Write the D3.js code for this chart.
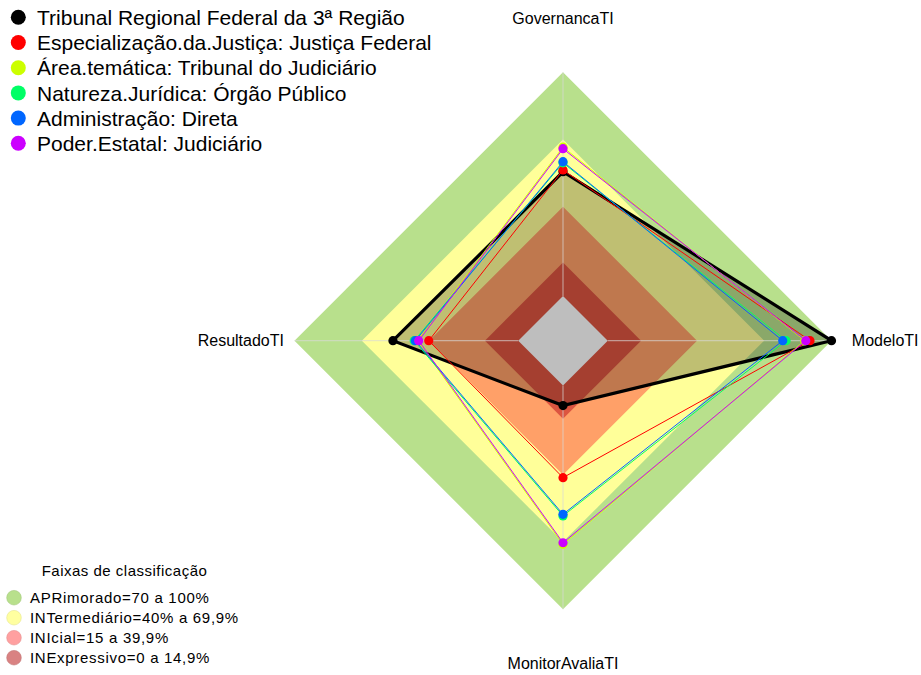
<!DOCTYPE html>
<html>
<head>
<meta charset="utf-8">
<script src="https://cdn.jsdelivr.net/npm/d3@7"></script>
<style>
  html, body { margin: 0; padding: 0; background: #ffffff; }
  text { font-family: "Liberation Sans", Arial, sans-serif; fill: #000; }
</style>
</head>
<body>
<svg id="chart" width="921" height="675"></svg>
<script>
// ---- Data ----
const axes = ["GovernancaTI", "ModeloTI", "MonitorAvaliaTI", "ResultadoTI"];
const seriesNames = [
  "Tribunal Regional Federal da 3ª Região",
  "Especialização.da.Justiça: Justiça Federal",
  "Área.temática: Tribunal do Judiciário",
  "Natureza.Jurídica: Órgão Público",
  "Administração: Direta",
  "Poder.Estatal: Judiciário"
];
const seriesColors = ["#000000", "#FF0000", "#CCFF00", "#00FF66", "#0066FF", "#CC00FF"];
// values per axis: GovernancaTI, ModeloTI, MonitorAvaliaTI, ResultadoTI
const trf3      = [55.5, 100, 9, 56];
const justFed   = [56.3, 90.4, 41.2, 40];
const areaTem   = [66.5, 88.0, 71.0, 45];
const natJur    = [59.5, 79.7, 58.3, 46.5];
const adminDir  = [60.0, 78.2, 57.6, 46];
const poderEst  = [65.8, 88.5, 70.3, 44.5];
const seriesValues = [trf3, justFed, areaTem, natJur, adminDir, poderEst];

const bandNames = ["APRimorado=70 a 100%", "INTermediário=40% a 69,9%", "INIcial=15 a 39,9%", "INExpressivo=0 a 14,9%"];
const bandUpper = [100, 69.9, 39.9, 14.9];
const bandColors = ["#b8e08c", "#ffff99", "#ffa068", "#dc5540"];
const bandLegendColors = ["#b8e08c", "#ffffa0", "#ffa0a0", "#d98282"];
const legendTitle = "Faixas de classificação";

// ---- Layout ----
const svg = d3.select("#chart");
const cx = 563, cy = 340.7, R = 268.5;
const r = d3.scaleLinear().domain([0, 100]).range([R / 6, R]);
const angle = d3.scaleOrdinal().domain(axes).range([-Math.PI / 2, 0, Math.PI / 2, Math.PI]);

const g = svg.append("g").attr("transform", `translate(${cx},${cy})`);
const pt = (ax, v) => [r(v) * Math.cos(angle(ax)), r(v) * Math.sin(angle(ax))];
const line = d3.line().curve(d3.curveLinearClosed);

// bands
g.selectAll("path.band").data(bandUpper).join("path")
  .attr("class", "band")
  .attr("d", v => line(axes.map(a => pt(a, v))))
  .attr("fill", (d, i) => bandColors[i])
  .attr("stroke", "none");

// black series fill
g.append("path")
  .attr("d", line(axes.map((a, i) => pt(a, trf3[i]))))
  .attr("fill", "rgba(0,0,0,0.25)")
  .attr("stroke", "none");

// gray center
g.append("path")
  .attr("d", line(axes.map(a => pt(a, 0))))
  .attr("fill", "#bebebe");

// axis lines
g.selectAll("line.axis").data(axes).join("line")
  .attr("class", "axis")
  .attr("x1", a => pt(a, 0)[0]).attr("y1", a => pt(a, 0)[1])
  .attr("x2", a => pt(a, 100)[0]).attr("y2", a => pt(a, 100)[1])
  .attr("stroke", "#d8d8d8").attr("stroke-opacity", 0.6).attr("stroke-width", 1.2);

// series
seriesValues.forEach((vals, si) => {
  const pts = axes.map((a, i) => pt(a, vals[i]));
  g.append("path")
    .attr("d", line(pts))
    .attr("fill", "none")
    .attr("stroke", seriesColors[si])
    .attr("stroke-width", si === 0 ? 3.2 : 1)
    .attr("stroke-linejoin", "miter");
  g.selectAll(null).data(pts).join("circle")
    .attr("cx", d => d[0]).attr("cy", d => d[1])
    .attr("r", 4.6)
    .attr("fill", seriesColors[si]);
});

// axis labels
g.selectAll("text.lab").data(axes).join("text")
  .attr("class", "lab")
  .attr("x", a => 1.2 * R * Math.cos(angle(a)))
  .attr("y", a => 1.2 * R * Math.sin(angle(a)))
  .attr("dy", "0.36em")
  .attr("text-anchor", "middle")
  .style("font-size", "16px")
  .text(a => a);

// top legend
const lg = svg.append("g");
seriesNames.forEach((n, i) => {
  lg.append("circle").attr("cx", 18.3).attr("cy", 17.3 + i * 25.2).attr("r", 7.5).attr("fill", seriesColors[i]);
  lg.append("text").attr("x", 37).attr("y", 25 + i * 25.2).style("font-size", "21px").text(n);
});

// bottom legend
const bl = svg.append("g");
bl.append("text").attr("x", 124.5).attr("y", 575.7).attr("text-anchor", "middle")
  .style("font-size", "15px").style("letter-spacing", "0.5px").text(legendTitle);
bandNames.forEach((n, i) => {
  bl.append("circle").attr("cx", 14).attr("cy", 597.7 + i * 20).attr("r", 7.3)
    .attr("fill", bandLegendColors[i]).attr("stroke", d3.color(bandLegendColors[i]).darker(0.3)).attr("stroke-width", 0.6);
  bl.append("text").attr("x", 30).attr("y", 602.7 + i * 20)
    .style("font-size", "15px").style("letter-spacing", "0.7px").text(n);
});
</script>
</body>
</html>
